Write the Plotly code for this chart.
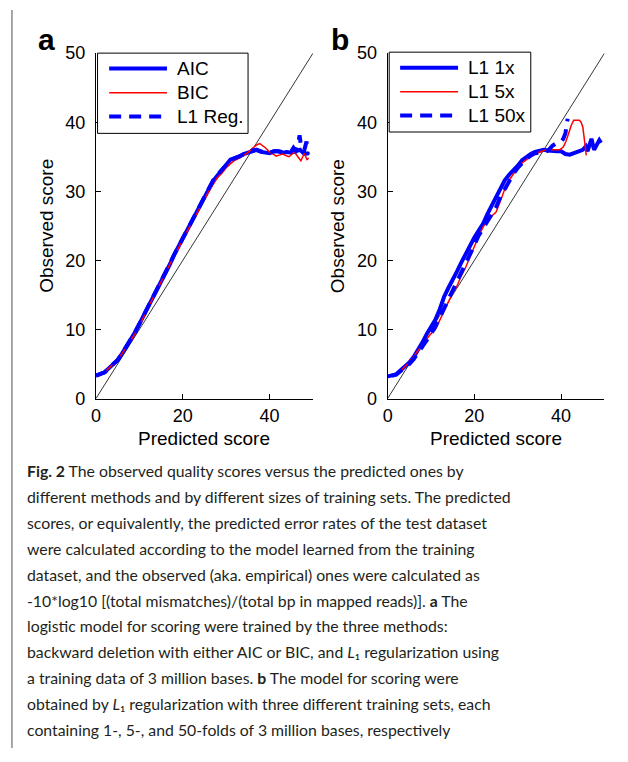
import plotly.graph_objects as go

W, H = 628, 762

# ---------------- data ----------------
diag = [0, 50]

a_aic_x = [0,1,2,3,4,5,6,7,8,9,10,11,12,13,14,15,16,17,18,19,20,21,22,23,24,25,26,27,28,29,30,31,32,33,34,35,36,37,38,39,40,41,42,43,44,45,46,47,48,49]
a_aic_y = [3.3,3.5,3.8,4.4,5.0,5.6,6.5,7.5,8.6,9.6,10.8,12.0,13.2,14.6,15.8,17.0,18.3,19.4,20.8,22.0,23.2,24.3,25.5,26.7,28.0,29.2,30.3,31.5,32.3,33.0,33.8,34.6,34.8,35.0,35.4,35.6,35.9,36.0,35.7,35.6,35.5,35.8,35.8,35.6,35.7,35.6,35.8,36.0,35.4,35.5]

a_bic_x = [0,1,2,3,4,5,6,7,8,9,10,11,12,13,14,15,16,17,18,19,20,21,22,23,24,25,26,27,28,29,30,31,32,33,34,35,36,37,37.7,38,39,40,41,41.5,42,43,44,44.5,45,45.7,46.5,47.2,48,48.6,49]
a_bic_y = [3.3,3.5,3.8,4.4,5.0,5.6,6.5,7.4,8.4,9.4,10.5,11.8,13.1,14.4,15.7,17.0,18.2,19.4,20.6,21.9,23.0,24.2,25.4,26.6,27.8,29.0,30.0,31.0,32.0,32.6,33.4,34.0,34.5,34.8,35.2,35.6,36.2,36.7,36.9,36.8,36.3,35.7,35.3,35.1,35.2,35.4,35.1,35.0,35.3,35.7,35.0,34.4,35.5,34.6,34.8]

a_l1_x = [0,1,2,3,4,5,6,7,8,9,10,11,12,13,14,15,16,17,18,19,20,21,22,23,24,25,26,27,28,29,30,31,32,33,34,35,36,37,38,39,40,41,42,43,44,45,45.5,46,46.5,46.9,47.3,48,48.5,48.8]
a_l1_y = [3.3,3.5,3.8,4.4,5.0,5.6,6.5,7.5,8.6,9.6,10.8,12.0,13.3,14.6,15.8,17.0,18.3,19.5,20.8,22.0,23.2,24.4,25.6,26.8,28.0,29.2,30.4,31.6,32.4,33.1,33.9,34.5,34.8,35.1,35.4,35.7,35.9,36.0,35.8,35.6,35.6,35.8,35.8,35.7,35.8,35.8,36.3,35.9,36.6,38.1,36.2,36.0,37.2,35.3]

b_1x_x = [0,1,2,3,4,5,6,7,8,9,10,11,12,13,14,15,16,17,18,19,20,21,22,23,24,25,26,27,28,29,30,31,32,33,34,35,36,37,38,39,40,41,42,43,44,45,45.7,46.1,46.5,47,47.6,48.1,48.8,49.2]
b_1x_y = [3.2,3.3,3.5,4.1,4.7,5.2,6.0,7.0,8.1,9.3,10.3,11.4,12.9,14.7,16.0,17.1,18.4,19.7,21.0,22.3,23.3,24.3,25.3,26.7,28.0,29.3,30.5,31.6,32.4,33.0,33.7,34.5,35.0,35.4,35.7,35.9,36.0,35.9,35.8,35.8,35.8,35.4,35.3,35.5,35.8,36.0,36.5,35.8,36.6,37.6,36.0,36.5,37.4,37.0]

b_5x_x = [2,3,4,5,6,7,8,9,10,11,12,13,14,15,16,17,18,19,20,21,22,23,24,25,26,27,28,29,30,31,32,33,34,35,36,37,38,39,39.6,40.5,41.1,41.7,42.3,42.9,43.5,44.2,44.6,45,45.4,45.8]
b_5x_y = [3.5,4.0,4.6,5.3,6.1,6.9,7.7,8.6,9.4,10.0,11.3,12.6,14.0,15.3,16.3,17.8,19.0,20.4,22.0,23.5,24.8,25.8,26.4,27.0,28.6,30.3,31.6,32.6,33.4,34.1,34.6,35.0,35.4,35.7,35.9,36.0,36.0,36.0,36.0,36.4,37.2,38.3,39.5,40.3,40.3,40.3,40.0,39.3,37.3,35.2]

b_50x_x = [1,2,3,4,5,6,7,8,9,10,11,12,13,14,15,16,17,18,19,20,21,22,23,24,25,26,27,28,29,30,31,32,33,34,35,36,37,38,39,40,40.5,41.0,41.5]
b_50x_y = [3.3,3.5,4.0,4.5,5.0,5.7,6.5,7.5,8.4,9.3,10.4,11.7,13.0,14.4,15.7,16.9,18.1,19.3,20.7,22.2,23.6,24.6,25.6,26.8,27.7,29.2,30.3,31.5,32.5,33.4,34.1,34.7,35.2,35.5,35.6,35.6,35.9,36.6,37.0,37.2,37.6,38.4,40.5]

x_ticks = [0, 20, 40]
y_ticks = [0, 10, 20, 30, 40, 50]

legend_a = ["AIC", "BIC", "L1 Reg."]
legend_b = ["L1 1x", "L1 5x", "L1 50x"]

caption_lines = [
    "<b>Fig. 2</b> The observed quality scores versus the predicted ones by",
    "different methods and by different sizes of training sets. The predicted",
    "scores, or equivalently, the predicted error rates of the test dataset",
    "were calculated according to the model learned from the training",
    "dataset, and the observed (aka. empirical) ones were calculated as",
    "-10*log10 [(total mismatches)/(total bp in mapped reads)]. <b>a</b> The",
    "logistic model for scoring were trained by the three methods:",
    "backward deletion with either AIC or BIC, and <i>L</i>₁ regularization using",
    "a training data of 3 million bases. <b>b</b> The model for scoring were",
    "obtained by <i>L</i>₁ regularization with three different training sets, each",
    "containing 1-, 5-, and 50-folds of 3 million bases, respectively",
]

# ---------------- styles ----------------
BLUE = "#0000ff"
RED = "#ff0000"
THICK = 4
THIN = 1.5
DASH = "12px,8px"
FONT = "Liberation Sans, Arial, sans-serif"
CAP_FONT = "Lato, sans-serif"

def px(x):
    return x / W

def py(y):
    return 1 - y / H

fig = go.Figure()

styles = [dict(color=BLUE, width=THICK), dict(color=RED, width=THIN), dict(color=BLUE, width=THICK, dash=DASH)]

for xa, ya, series in [
    ("x", "y", [(a_aic_x, a_aic_y), (a_bic_x, a_bic_y), (a_l1_x, a_l1_y)]),
    ("x2", "y2", [(b_1x_x, b_1x_y), (b_5x_x, b_5x_y), (b_50x_x, b_50x_y)]),
]:
    fig.add_trace(go.Scatter(x=diag, y=diag, mode="lines", line=dict(color="black", width=0.8),
                             xaxis=xa, yaxis=ya, showlegend=False, hoverinfo="skip"))
    for (sx, sy), st in zip(series, styles):
        fig.add_trace(go.Scatter(x=sx, y=sy, mode="lines", line=st, xaxis=xa, yaxis=ya,
                                 showlegend=False))

ydom = [py(399), py(44.3)]
axis_common = dict(range=[0, 50], showline=True, linecolor="black", linewidth=1,
                   ticks="inside", ticklen=5, tickcolor="black", showgrid=False, zeroline=False,
                   tickfont=dict(family=FONT, size=18, color="black"), fixedrange=True)

fig.update_layout(
    width=W, height=H, margin=dict(l=0, r=0, t=0, b=0),
    paper_bgcolor="white", plot_bgcolor="white", showlegend=False,
    xaxis=dict(domain=[px(91.7), px(310.5)], anchor="y", tickvals=x_ticks, ticklabelstandoff=1, **axis_common),
    yaxis=dict(domain=ydom, anchor="x", tickvals=y_ticks, ticklabelstandoff=6, **axis_common),
    xaxis2=dict(domain=[px(385.7), px(604.3)], anchor="y2", tickvals=x_ticks, ticklabelstandoff=1, **axis_common),
    yaxis2=dict(domain=ydom, anchor="x2", tickvals=y_ticks, ticklabelstandoff=6, **axis_common),
)

shapes = []
annotations = []

# legends
for labels, box, lx0, lx1, tx, rows in [
    (legend_a, (93.3, 44.3, 245, 126.7), 105, 163.3, 171.7, [60, 85, 109.3]),
    (legend_b, (387.3, 43.3, 530, 125.3), 398.3, 456.7, 465, [59.3, 84, 108.3]),
]:
    shapes.append(dict(type="rect", xref="paper", yref="paper", x0=px(box[0]), x1=px(box[2]),
                       y0=py(box[3]), y1=py(box[1]), line=dict(color="black", width=1),
                       fillcolor="white", layer="above"))
    for lab, st, ry in zip(labels, styles, rows):
        shapes.append(dict(type="line", xref="paper", yref="paper", x0=px(lx0), x1=px(lx1),
                           y0=py(ry), y1=py(ry), line=st))
        annotations.append(dict(text=lab, xref="paper", yref="paper", x=px(tx), y=py(ry),
                                xanchor="left", yanchor="middle", showarrow=False,
                                font=dict(family=FONT, size=19, color="black")))

# panel letters
for lab, cx in [("a", 41.5), ("b", 337.5)]:
    annotations.append(dict(text=f"<b>{lab}</b>", xref="paper", yref="paper", x=px(cx), y=py(30),
                            xanchor="center", yanchor="middle", showarrow=False,
                            font=dict(family=FONT, size=30, color="black")))

# axis titles
for cx in [201, 495]:
    annotations.append(dict(text="Predicted score", xref="paper", yref="paper", x=px(cx), y=py(440),
                            xanchor="center", yanchor="middle", showarrow=False,
                            font=dict(family=FONT, size=19, color="black")))
for cx in [41, 334.7]:
    annotations.append(dict(text="Observed score", xref="paper", yref="paper", x=px(cx), y=py(222),
                            xanchor="center", yanchor="middle", showarrow=False, textangle=-90,
                            font=dict(family=FONT, size=19, color="black")))

# caption
for i, line in enumerate(caption_lines):
    annotations.append(dict(text=line, xref="paper", yref="paper", x=px(20), y=py(473 + i * 26.6),
                            xanchor="left", yanchor="middle", showarrow=False, align="left",
                            font=dict(family=CAP_FONT, size=15.8, color="#231f20")))

# frame line at left
shapes.append(dict(type="line", xref="paper", yref="paper", x0=px(7), x1=px(7), y0=py(758), y1=1,
                   line=dict(color="#8a8a8a", width=1.5)))

fig.update_layout(shapes=shapes, annotations=annotations)
fig.write_html("out.html")
